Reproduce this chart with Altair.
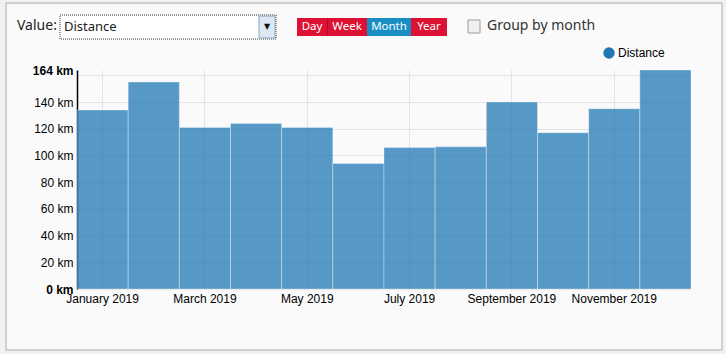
import altair as alt
import pandas as pd

months = ["January 2019", "February 2019", "March 2019", "April 2019", "May 2019",
          "June 2019", "July 2019", "August 2019", "September 2019", "October 2019",
          "November 2019", "December 2019"]
distance_km = [134, 155, 121, 124, 121, 94, 106, 106.5, 140, 117, 135, 164]
x_tick_labels = ["January 2019", "March 2019", "May 2019", "July 2019",
                 "September 2019", "November 2019"]
y_tick_values = [0, 20, 40, 60, 80, 100, 120, 140, 160, 164]
series_name = "Distance"
buttons = ["Day", "Week", "Month", "Year"]

df = pd.DataFrame({"month": months, "value": distance_km, "series": series_name})
one = pd.DataFrame({"k": [0]})

FONT = "Liberation Sans"
UI_FONT = "Noto Sans"
OX, OY = 77, 70  # plot origin in page pixels


def rect(x1, y1, x2, y2, **kw):
    return alt.Chart(one).mark_rect(**kw).encode(
        x=alt.value(x1 - OX), x2=alt.value(x2 - OX),
        y=alt.value(y1 - OY), y2=alt.value(y2 - OY))


def text(x, y, s, **kw):
    return alt.Chart(one).mark_text(**kw).encode(
        x=alt.value(x - OX), y=alt.value(y - OY), text=alt.value(s))


# panel frame
frame_outer = rect(0, 0, 726, 354, fill="#f2f2f2", fillOpacity=0, stroke="#f2f2f2", strokeWidth=10)
frame = rect(6, 3, 722, 350, fillOpacity=0, stroke="#c4c4c4", strokeWidth=1.5)

# UI controls
ui = [
    text(17, 26, "Value:", font=UI_FONT, fontSize=14, align="left", baseline="middle", color="#222"),
    rect(60, 15, 276, 39, fill="#ffffff", stroke="#333333", strokeWidth=1, strokeDash=[1, 1]),
    rect(259, 16, 275, 38, fill="#dce8f4", stroke="#8aa6c4", strokeWidth=1),
    text(267, 27, "▼", font="DejaVu Sans", fontSize=8, align="center", baseline="middle", color="#111"),
    text(64, 27, "Distance", font=UI_FONT, fontSize=13, align="left", baseline="middle", color="#222"),
    rect(297, 18, 367, 36, fill="#dd1133"),
    rect(367, 18, 411, 36, fill="#1a8ec4"),
    rect(411, 18, 447, 36, fill="#dd1133"),
    rect(327, 18, 328, 36, fill="#b00d28"),
    text(312, 27, "Day", font=UI_FONT, fontSize=11.5, align="center", baseline="middle", color="white"),
    text(347, 27, "Week", font=UI_FONT, fontSize=11.5, align="center", baseline="middle", color="white"),
    text(389, 27, "Month", font=UI_FONT, fontSize=11.5, align="center", baseline="middle", color="white"),
    text(429, 27, "Year", font=UI_FONT, fontSize=11.5, align="center", baseline="middle", color="white"),
    rect(468, 20, 480, 33, fill="#f0f0f0", stroke="#9a9a9a", strokeWidth=1),
    text(487, 26, "Group by month", font=UI_FONT, fontSize=14, align="left", baseline="middle", color="#333"),
]

bars = alt.Chart(df).mark_bar(fillOpacity=0.75, stroke="white", strokeOpacity=0.35, strokeWidth=1).encode(
    x=alt.X("month:N", sort=months, title=None,
            scale=alt.Scale(paddingInner=0, paddingOuter=0),
            axis=alt.Axis(values=x_tick_labels, labelAngle=0, grid=True, gridColor="#e4e4e4",
                          domain=False, ticks=False, labelPadding=4, bandPosition=0.5,
                          labelFont=FONT, labelFontSize=12, labelColor="#000",
                          labelOverlap=False)),
    y=alt.Y("value:Q", title=None,
            scale=alt.Scale(domain=[0, 164], nice=False, zero=True),
            axis=alt.Axis(values=y_tick_values,
                          labelExpr="datum.value == 160 ? '' : datum.value + ' km'",
                          labelFontWeight={"expr": "datum.value == 0 || datum.value == 164 ? 'bold' : 'normal'"},
                          gridColor={"expr": "datum.value == 164 ? 'transparent' : '#e4e4e4'"},
                          domainColor="#000", domainWidth=1.5, ticks=False, labelPadding=4,
                          labelFont=FONT, labelFontSize=12, labelColor="#000",
                          labelOverlap=False, labelBound=False)),
    color=alt.Color("series:N", title=None,
                    scale=alt.Scale(domain=[series_name], range=["#1f77b4"]),
                    legend=alt.Legend(orient="none", legendX=526, legendY=-23, padding=0,
                                      symbolType="circle", symbolSize=130, symbolOpacity=1,
                                      symbolStrokeWidth=0, labelFont=FONT, labelFontSize=12,
                                      labelColor="#000", labelOffset=3)),
)

chart = alt.layer(frame_outer, frame, *ui, bars).properties(
    width=614, height=219,
    autosize=alt.AutoSizeParams(type="none"),
    padding={"left": OX, "top": OY, "right": 726 - OX - 614, "bottom": 354 - OY - 219},
    background="#fafafa",
).configure_view(stroke=None)

chart.save("out.html", embed_options={"renderer": "svg", "actions": False})
